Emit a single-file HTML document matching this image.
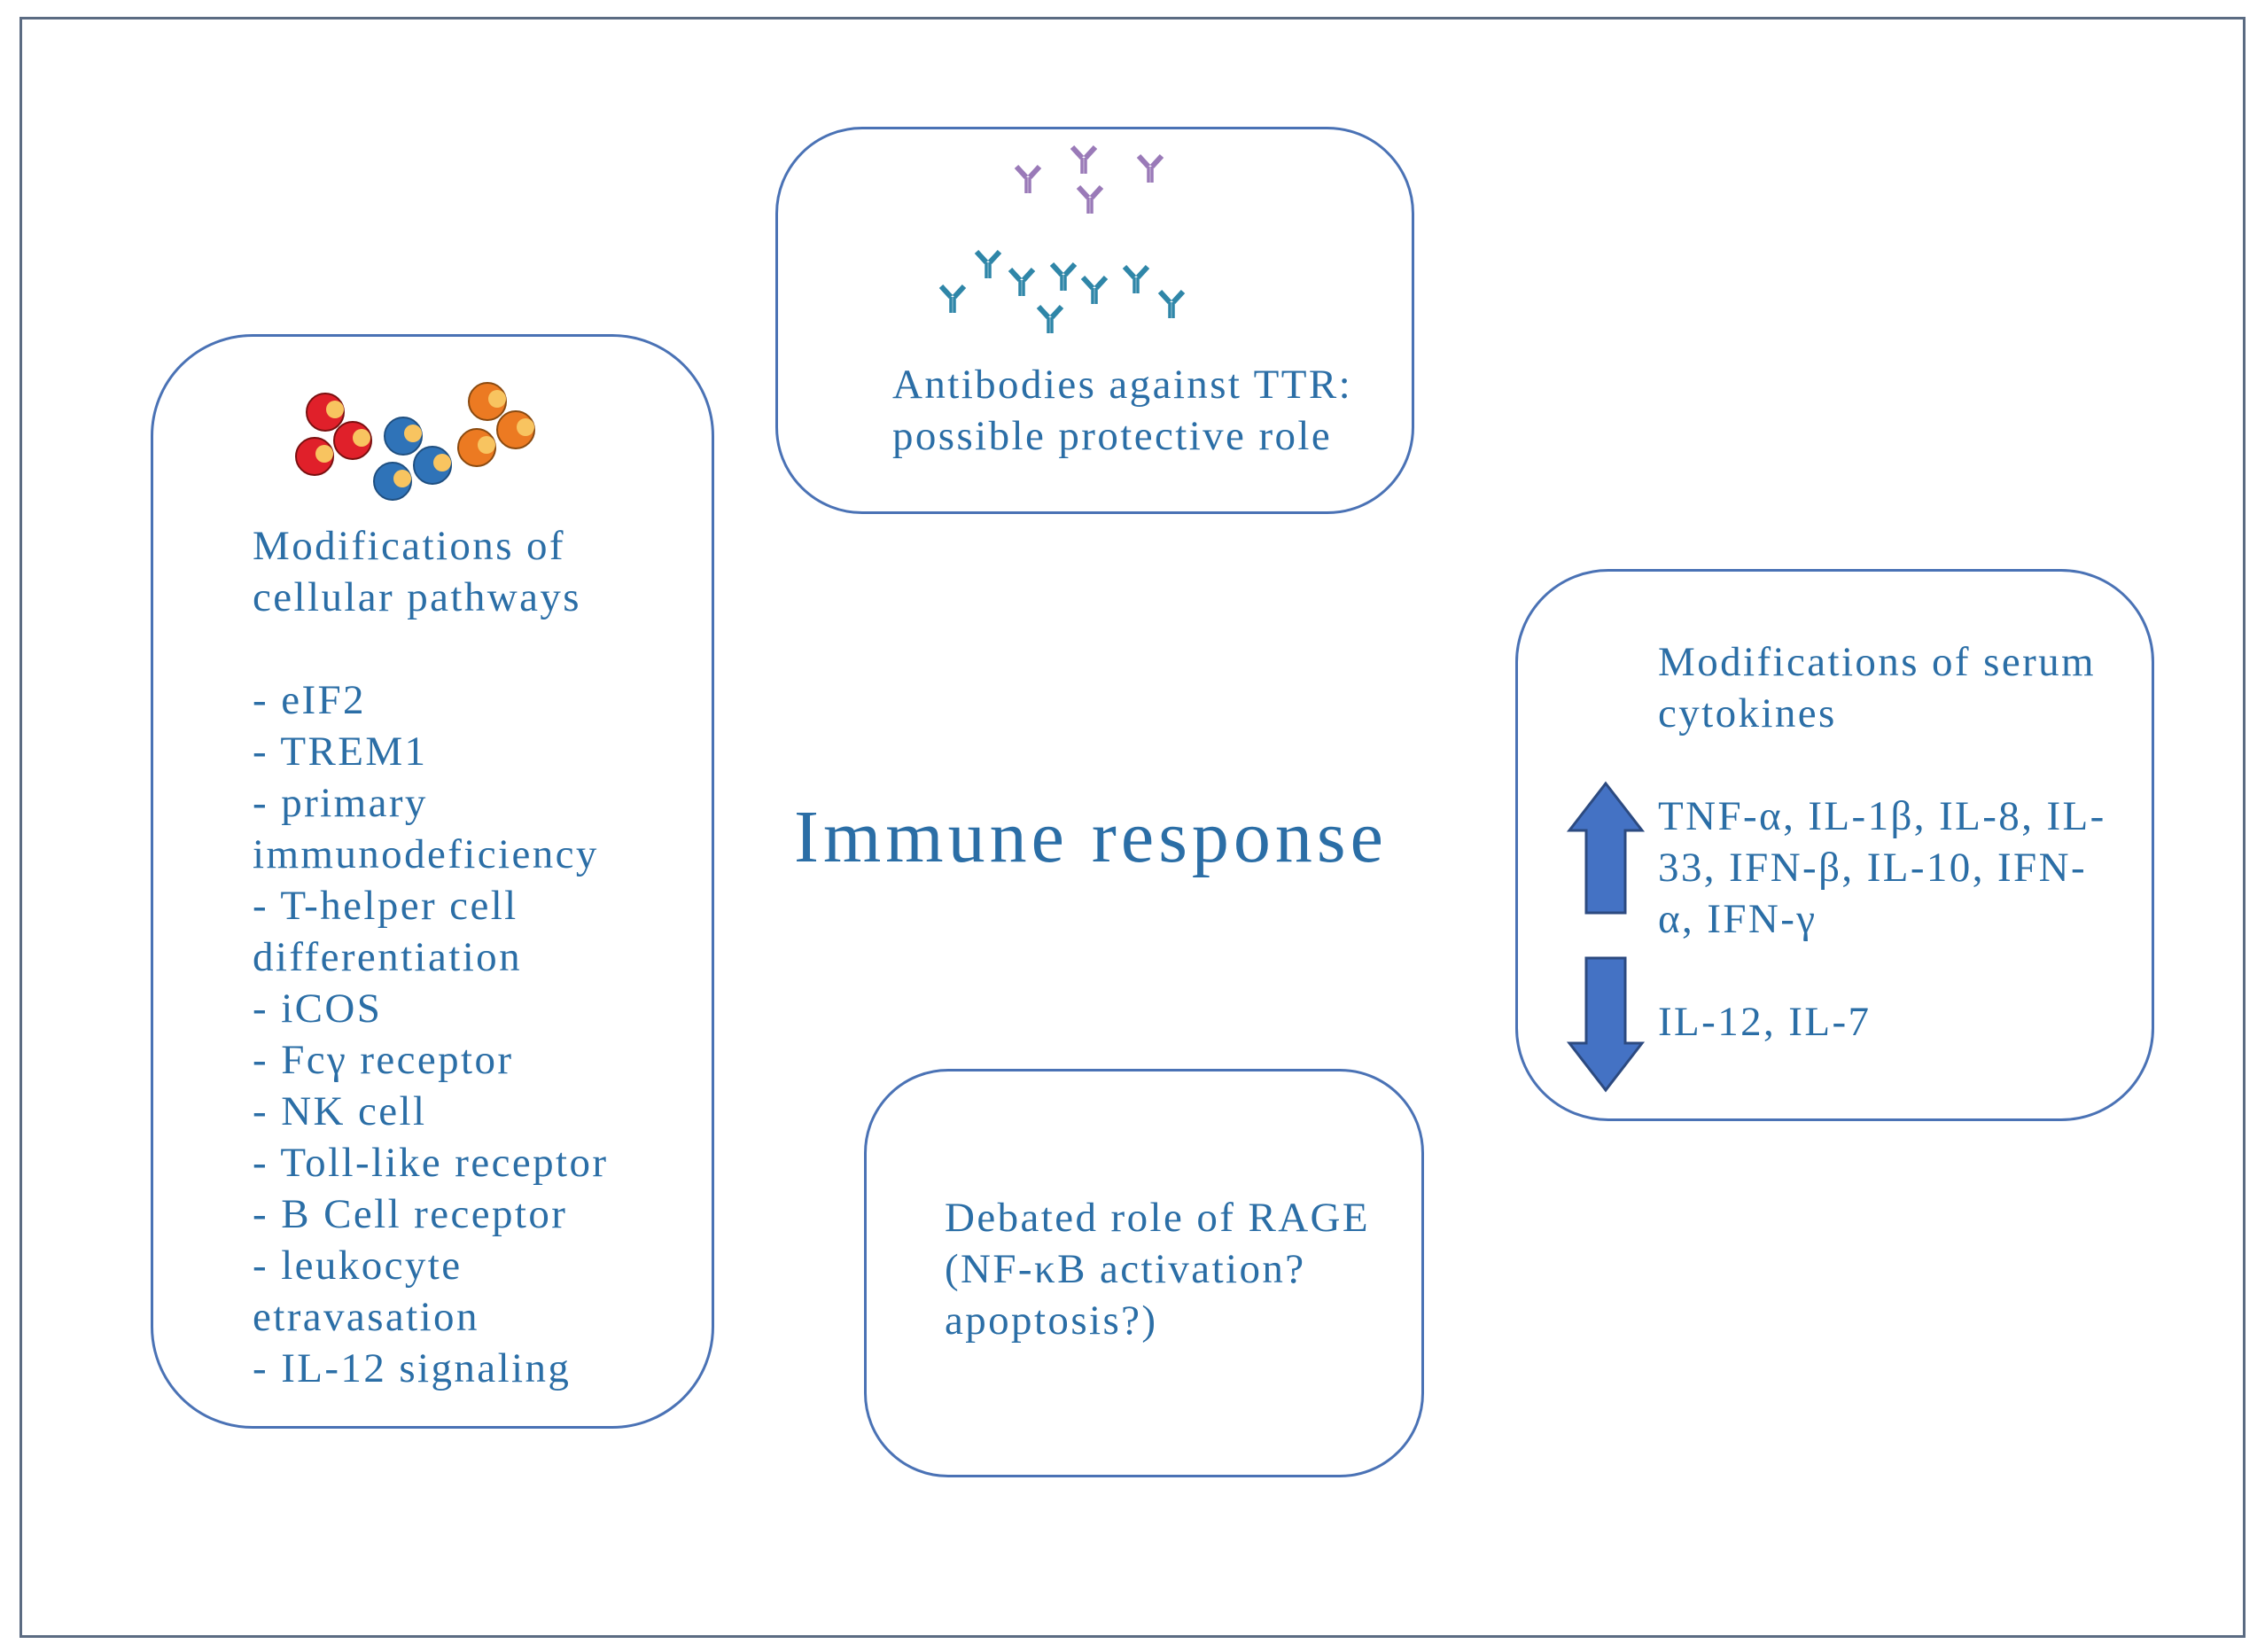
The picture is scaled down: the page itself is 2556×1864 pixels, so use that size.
<!DOCTYPE html>
<html><head><meta charset="utf-8"><style>
body{margin:0;width:2556px;height:1864px;background:#fff;position:relative;overflow:hidden;font-family:"Liberation Serif",serif;color:#2b6ea6}
.frame{position:absolute;left:22px;top:19px;width:2506px;height:1823px;border:3px solid #5b6b82}
.box{position:absolute;border:3px solid #4a72b5;box-sizing:border-box;background:#fff}
.t{position:absolute;font-size:47px;line-height:58px;white-space:pre;letter-spacing:2.4px}
svg{position:absolute;left:0;top:0}
</style></head><body>
<div class="frame"></div>
<div class="box" style="left:170px;top:377px;width:636px;height:1235px;border-radius:115px"></div>
<div class="box" style="left:875px;top:143px;width:721px;height:437px;border-radius:98px"></div>
<div class="box" style="left:1710px;top:642px;width:721px;height:623px;border-radius:105px"></div>
<div class="box" style="left:975px;top:1206px;width:632px;height:461px;border-radius:95px"></div>

<div class="t" style="left:285px;top:587px">Modifications of
cellular pathways

- eIF2
- TREM1
- primary
immunodeficiency
- T-helper cell
differentiation
- iCOS
- Fcγ receptor
- NK cell
- Toll-like receptor
- B Cell receptor
- leukocyte
etravasation
- IL-12 signaling</div>

<div class="t" style="left:1007px;top:405px">Antibodies against TTR:
possible protective role</div>

<div class="t" style="left:896px;top:895px;font-size:84px;line-height:100px;letter-spacing:5px">Immune response</div>

<div class="t" style="left:1871px;top:718px">Modifications of serum
cytokines</div>
<div class="t" style="left:1871px;top:892px">TNF-α, IL-1β, IL-8, IL-
33, IFN-β, IL-10, IFN-
α, IFN-γ</div>
<div class="t" style="left:1871px;top:1124px">IL-12, IL-7</div>

<div class="t" style="left:1066px;top:1345px">Debated role of RAGE
(NF-κB activation?
apoptosis?)</div>

<svg width="2556" height="1864">
<polygon points="1812,884 1853,937 1834,937 1834,1030 1790,1030 1790,937 1771,937" fill="#4472c4" stroke="#2c4a80" stroke-width="3"/>
<polygon points="1790,1081 1834,1081 1834,1177 1853,1177 1812,1230 1771,1177 1790,1177" fill="#4472c4" stroke="#2c4a80" stroke-width="3"/>
<g stroke-width="2" stroke="#7a1010"><circle cx="367" cy="465" r="21" fill="#e0202a"/><circle cx="398" cy="497" r="21" fill="#e0202a"/><circle cx="355" cy="515" r="21" fill="#e0202a"/></g>
<g stroke-width="2" stroke="#1f4f80"><circle cx="455" cy="492" r="21" fill="#2f73b8"/><circle cx="488" cy="525" r="21" fill="#2f73b8"/><circle cx="443" cy="543" r="21" fill="#2f73b8"/></g>
<g stroke-width="2" stroke="#8a4a10"><circle cx="550" cy="453" r="21" fill="#ec7a22"/><circle cx="582" cy="485" r="21" fill="#ec7a22"/><circle cx="538" cy="505" r="21" fill="#ec7a22"/></g>
<g fill="#f8c460"><circle cx="378" cy="462" r="10"/><circle cx="408" cy="494" r="10"/><circle cx="366" cy="512" r="10"/><circle cx="466" cy="489" r="10"/><circle cx="499" cy="522" r="10"/><circle cx="454" cy="540" r="10"/><circle cx="561" cy="450" r="10"/><circle cx="593" cy="482" r="10"/><circle cx="549" cy="502" r="10"/></g>
<defs><g id="ab"><path d="M-13,-14 L-2,-2 M13,-14 L2,-2" stroke-width="6"/><path d="M-2,-2 L-2,16 M2,-2 L2,16" stroke-width="3.5"/></g></defs>
<g stroke="#9a7ab8"><use href="#ab" x="1160" y="202"/><use href="#ab" x="1223" y="180"/><use href="#ab" x="1230" y="225"/><use href="#ab" x="1298" y="190"/></g>
<g stroke="#2f86a8"><use href="#ab" x="1075" y="337"/><use href="#ab" x="1115" y="298"/><use href="#ab" x="1153" y="318"/><use href="#ab" x="1200" y="312"/><use href="#ab" x="1185" y="360"/><use href="#ab" x="1235" y="327"/><use href="#ab" x="1282" y="315"/><use href="#ab" x="1322" y="343"/></g>
</svg>
</body></html>
